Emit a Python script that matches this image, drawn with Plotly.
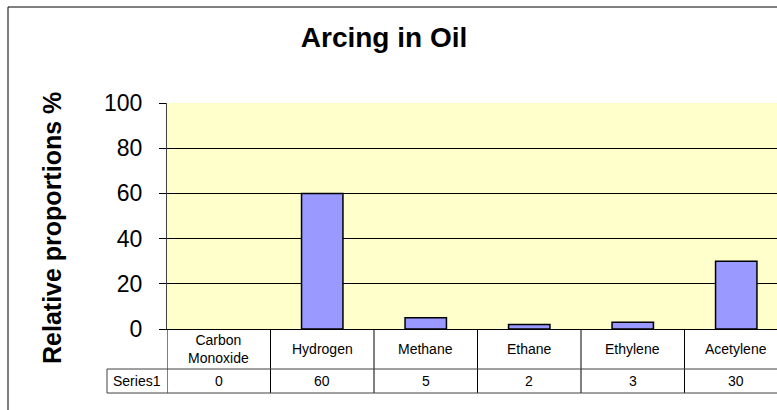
import plotly.graph_objects as go

# Gas composition for the arcing fault pattern
categories = ["Carbon<br>Monoxide", "Hydrogen", "Methane", "Ethane", "Ethylene", "Acetylene"]
values = [0, 60, 5, 2, 3, 30]
series_name = "Series1"
y_ticks = [0, 20, 40, 60, 80, 100]

W, H = 777, 410
FONT = "Liberation Sans, Arial, sans-serif"

# Plot-area geometry in pixels
plot_left, plot_top, plot_zero = 167, 103, 329
cat_w = 103.5
row1_bottom, row2_bottom = 369, 393
series_cell_left = 107

def px_x(v):
    return v / W

def px_y(v):
    return 1 - v / H

n = len(categories)
x_idx = list(range(n))
x_max = -0.5 + (W - plot_left) / cat_w

fig = go.Figure()
fig.add_trace(go.Bar(
    x=x_idx,
    y=values,
    name=series_name,
    width=0.4,
    marker=dict(color="#9999FF",
                line=dict(color="black", width=[1.5 if v > 0 else 0 for v in values])),
    hoverinfo="skip",
))

shapes = []
annotations = []

# Outer chart frame (left and top edges visible)
shapes.append(dict(type="path", xref="paper", yref="paper",
                   path=f"M {px_x(8)} -0.1 L {px_x(8)} {px_y(7)} L 1.1 {px_y(7)}",
                   line=dict(color="black", width=1)))

# Data table: vertical cell borders at category boundaries
for i in range(n + 1):
    shapes.append(dict(type="line", xref="x", yref="paper",
                       x0=i - 0.5, x1=i - 0.5,
                       y0=px_y(plot_zero), y1=px_y(row2_bottom),
                       line=dict(color="black", width=1)))
# Horizontal rows of the data table
for yy in (row1_bottom, row2_bottom):
    shapes.append(dict(type="line", xref="paper", yref="paper",
                       x0=px_x(series_cell_left), x1=1.0,
                       y0=px_y(yy), y1=px_y(yy),
                       line=dict(color="#404040", width=1)))
# Series legend-key cell
shapes.append(dict(type="line", xref="paper", yref="paper",
                   x0=px_x(series_cell_left), x1=px_x(series_cell_left),
                   y0=px_y(row1_bottom), y1=px_y(row2_bottom),
                   line=dict(color="#404040", width=1)))

# Table text: category names and values
for i, (c, v) in enumerate(zip(categories, values)):
    annotations.append(dict(x=i, y=px_y((plot_zero + row1_bottom) / 2), xref="x", yref="paper",
                            text=c, showarrow=False, font=dict(family=FONT, size=14, color="black"),
                            xanchor="center", yanchor="middle"))
    annotations.append(dict(x=i, y=px_y((row1_bottom + row2_bottom) / 2), xref="x", yref="paper",
                            text=str(v), showarrow=False, font=dict(family=FONT, size=14, color="black"),
                            xanchor="center", yanchor="middle"))
annotations.append(dict(x=px_x((series_cell_left + plot_left) / 2), y=px_y((row1_bottom + row2_bottom) / 2),
                        xref="paper", yref="paper", text=series_name, showarrow=False,
                        font=dict(family=FONT, size=14, color="black"),
                        xanchor="center", yanchor="middle"))

# Y-axis title
annotations.append(dict(x=px_x(52), y=px_y(228), xref="paper", yref="paper",
                        text="<b>Relative proportions %</b>", textangle=-90, showarrow=False,
                        font=dict(family=FONT, size=25, color="black"),
                        xanchor="center", yanchor="middle"))

fig.update_layout(
    width=W, height=H,
    margin=dict(l=0, r=0, t=0, b=0),
    paper_bgcolor="white",
    plot_bgcolor="#FFFFCC",
    showlegend=False,
    title=dict(text="<b>Arcing in Oil</b>", x=px_x(384), y=px_y(37),
               xref="paper", yref="paper", xanchor="center", yanchor="middle",
               font=dict(family=FONT, size=28, color="black")),
    xaxis=dict(domain=[px_x(plot_left), 1.0], range=[-0.5, x_max], automargin=False,
               showticklabels=False, ticks="", showgrid=False, zeroline=False,
               showline=True, linecolor="black", linewidth=1, fixedrange=True),
    yaxis=dict(domain=[px_y(plot_zero), px_y(plot_top)], range=[0, 100], automargin=False,
               tickvals=y_ticks, ticks="outside", ticklen=7, tickcolor="black",
               ticklabelstandoff=12,
               tickfont=dict(family=FONT, size=23, color="black"),
               showgrid=True, gridcolor="black", gridwidth=1, zeroline=False,
               showline=True, linecolor="#404040", linewidth=1, fixedrange=True),
    shapes=shapes,
    annotations=annotations,
    bargap=0.6,
)

fig.write_html("out.html")
